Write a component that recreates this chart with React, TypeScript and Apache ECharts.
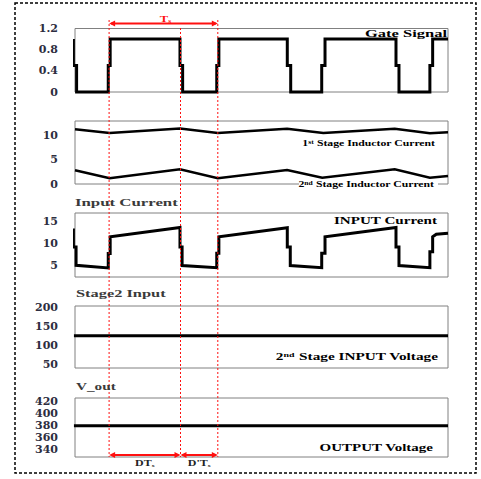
import React, { useEffect, useRef } from 'react';
import * as echarts from 'echarts';

// time axis (µs-like units), one switching period ≈ 10
const T_MIN = 0;
const T_MAX = 35;

// Gate signal (t, value) – two-step edges as in the original trace
const gateSignal: [number, number][] = [
  [-0.15, 1], [-0.15, 0.5], [0.15, 0.5], [0.15, 0],
  [3.12, 0], [3.12, 0.5], [3.3, 0.5], [3.3, 1],
  [9.85, 1], [9.85, 0.5], [10.1, 0.5], [10.1, 0],
  [13.3, 0], [13.3, 0.5], [13.5, 0.5], [13.5, 1],
  [19.92, 1], [19.92, 0.5], [20.24, 0.5], [20.24, 0],
  [23.15, 0], [23.15, 0.5], [23.46, 0.5], [23.46, 1],
  [30.12, 1], [30.12, 0.5], [30.4, 0.5], [30.4, 0],
  [33.3, 0], [33.3, 0.5], [33.56, 0.5], [33.56, 1],
  [35, 1],
];

const stage1Current: [number, number][] = [
  [0, 11.3], [3.25, 10.5], [9.85, 11.45], [13.4, 10.5], [19.9, 11.4],
  [23.3, 10.5], [30.0, 11.4], [33.3, 10.45], [35, 10.7],
];

const stage2Current: [number, number][] = [
  [0, 2.83], [3.25, 1.17], [9.85, 3.03], [13.4, 1.17], [19.9, 2.9],
  [23.2, 1.3], [30.0, 3.03], [33.3, 1.3], [35, 1.66],
];

const inputCurrent: [number, number][] = [
  [-0.15, 13.5], [-0.15, 9.3], [0.1, 9.3], [0.1, 5.15],
  [3.12, 4.55], [3.12, 7.8], [3.3, 7.8], [3.3, 11.6],
  [9.85, 13.7], [9.85, 9.3], [10.05, 9.3], [10.05, 5.1],
  [13.3, 4.6], [13.3, 7.9], [13.5, 7.9], [13.5, 11.6],
  [19.92, 13.65], [19.92, 9.3], [20.2, 9.3], [20.2, 5.1],
  [23.15, 4.6], [23.15, 7.9], [23.46, 7.9], [23.46, 11.6],
  [30.12, 13.7], [30.12, 9.3], [30.4, 9.3], [30.4, 5.1],
  [33.3, 4.6], [33.3, 8.2], [33.56, 8.2], [33.56, 11.6], [33.9, 12.2], [35, 12.4],
];

const stage2InputVoltage: [number, number][] = [[-0.1, 125], [35, 125]];
const outputVoltage: [number, number][] = [[-0.1, 380], [35, 380]];

// tick labels
const gateTicks = [0, 0.4, 0.8, 1.2];
const inductorTicks = [0, 5, 10];
const inputTicks = [5, 10, 15];
const stage2Ticks = [50, 100, 150, 200];
const voutTicks = [340, 360, 380, 400, 420];

// y ranges of the five panels
const yMins = [0, 0, 2.5, 41, 327.5];
const yMaxs = [1.2, 13, 17, 203, 426.5];

// switching instants marked with red dashed lines (on, off, on)
const markerTimes = [3.2, 9.9, 13.4];

const GRID_LEFT = 75;
const GRID_WIDTH = 373;
const gridTops = [28.5, 121, 213, 306, 398];
const gridHeights = [63.5, 63, 64, 62, 59];

const SERIF = '"Liberation Serif", "Times New Roman", serif';

function txt(
  text: string,
  x: number,
  y: number,
  o: { size: number; scale: number; align?: string; fill?: string; rich?: any }
) {
  const align = o.align || 'right';
  return {
    type: 'text',
    x,
    y,
    scaleX: o.scale,
    z: 100,
    style: {
      text,
      fill: o.fill || '#000',
      fontSize: o.size,
      fontWeight: 'bold',
      fontFamily: SERIF,
      align,
      textAlign: align,
      verticalAlign: 'middle',
      textVerticalAlign: 'middle',
      rich: o.rich,
    },
  };
}

function supRich(size: number) {
  return {
    sup: { fontSize: size, fontWeight: 'bold', fontFamily: SERIF, verticalAlign: 'top' },
  };
}
function subRich(size: number, fill: string) {
  return {
    sub: { fontSize: size, fontWeight: 'bold', fontFamily: SERIF, verticalAlign: 'bottom', fill },
  };
}

function arrow(x1: number, x2: number, y: number) {
  const red = '#ff1010';
  const h = 6;
  const w = 3;
  return [
    { type: 'line', z: 60, shape: { x1: x1 + 2, y1: y, x2: x2 - 2, y2: y }, style: { stroke: red, lineWidth: 2 } },
    { type: 'polygon', z: 60, shape: { points: [[x1, y], [x1 + h, y - w], [x1 + h, y + w]] }, style: { fill: red } },
    { type: 'polygon', z: 60, shape: { points: [[x2, y], [x2 - h, y - w], [x2 - h, y + w]] }, style: { fill: red } },
  ];
}

export default function App() {
  const ref = useRef<HTMLDivElement>(null);

  useEffect(() => {
    if (!ref.current) return;
    const chart = echarts.init(ref.current, undefined, { renderer: 'svg' });

    const tickSets = [gateTicks, inductorTicks, inputTicks, stage2Ticks, voutTicks];

    const grid = gridTops.map((top, i) => ({
      left: GRID_LEFT,
      width: GRID_WIDTH,
      top,
      height: gridHeights[i],
      show: true,
      borderColor: '#808080',
      borderWidth: 1,
      backgroundColor: 'transparent',
    }));

    const xAxis = gridTops.map((_, i) => ({
      type: 'value',
      gridIndex: i,
      min: T_MIN,
      max: T_MAX,
      show: false,
    }));

    const yAxis = gridTops.map((_, i) => ({
      type: 'value',
      gridIndex: i,
      min: yMins[i],
      max: yMaxs[i],
      axisLine: { show: false },
      axisTick: { show: false },
      splitLine: { show: false },
      axisLabel: {
        customValues: tickSets[i],
        formatter: (v: number) => (i === 0 ? (v === 0 ? '0' : v.toFixed(1)) : String(v)),
        fontFamily: '"DejaVu Serif", serif',
        fontWeight: 'bold',
        fontSize: 11,
        color: '#2d2d40',
        margin: 17,
      },
    }));

    const mk = (data: [number, number][], i: number, width: number) => ({
      type: 'line',
      xAxisIndex: i,
      yAxisIndex: i,
      data,
      symbol: 'none',
      showSymbol: false,
      clip: false,
      lineStyle: { color: '#000', width, join: 'miter', cap: 'butt' },
      emphasis: { disabled: true },
    });

    const series = [
      mk(gateSignal, 0, 3),
      mk(stage1Current, 1, 2.5),
      mk(stage2Current, 1, 2.5),
      mk(inputCurrent, 2, 3),
      mk(stage2InputVoltage, 3, 3),
      mk(outputVoltage, 4, 3),
    ];

    chart.setOption({
      animation: false,
      backgroundColor: '#fff',
      grid,
      xAxis,
      yAxis,
      series,
    });

    const xs = markerTimes.map((t) => (chart.convertToPixel({ gridIndex: 0 }, [t, 0]) as number[])[0]);
    const red = '#ff1010';
    const dark = '#222';

    const graphic: any[] = [
      // outer dashed frame
      {
        type: 'rect',
        z: 90,
        shape: { x: 15, y: 3, width: 461, height: 470 },
        style: { fill: 'none', stroke: '#000', lineWidth: 1.5, lineDash: [3, 2] },
      },
      // red dashed markers
      ...xs.map((x, i) => ({
        type: 'line',
        z: 55,
        shape: { x1: x, y1: i === 1 ? 28 : 20, x2: x, y2: 457 },
        style: { stroke: red, lineWidth: 1, lineDash: [2, 2] },
      })),
      ...arrow(xs[0], xs[2], 23.5),
      ...arrow(xs[0], xs[1], 455),
      ...arrow(xs[1], xs[2], 455),
      txt('T{sub|s}', (xs[0] + xs[2]) / 2 + 2, 19, { size: 9, scale: 1.4, align: 'center', fill: red, rich: subRich(5.5, red) }),
      txt('DT{sub|s}', (xs[0] + xs[1]) / 2, 463.5, { size: 8, scale: 1.5, align: 'center', fill: dark, rich: subRich(5, dark) }),
      txt("D'T{sub|s}", (xs[1] + xs[2]) / 2, 463.5, { size: 8, scale: 1.5, align: 'center', fill: dark, rich: subRich(5, dark) }),
      // panel labels
      txt('Gate Signal', 447, 33.5, { size: 10, scale: 1.65 }),
      txt('1{sup|st} Stage Inductor Current', 435, 143.5, { size: 8.5, scale: 1.38, rich: supRich(5.5) }),
      {
        type: 'rect',
        z: 99,
        shape: { x: 299, y: 179, width: 139, height: 10 },
        style: { fill: '#fff' },
      },
      txt('2{sup|nd} Stage Inductor Current', 434, 184, { size: 8.5, scale: 1.38, rich: supRich(5.5) }),
      txt('INPUT Current', 437, 220, { size: 10.5, scale: 1.44 }),
      txt('2{sup|nd} Stage INPUT Voltage', 438, 357, { size: 10, scale: 1.53, rich: supRich(6.5) }),
      txt('OUTPUT Voltage', 433, 448, { size: 10, scale: 1.5 }),
      // titles above panels
      txt('Input Current', 75, 203, { size: 10.5, scale: 1.6, align: 'left', fill: '#3a3a3a' }),
      txt('Stage2 Input', 76, 293.5, { size: 10.5, scale: 1.56, align: 'left', fill: '#3a3a3a' }),
      txt('V_out', 76, 386, { size: 10.5, scale: 1.45, align: 'left', fill: '#3a3a3a' }),
    ];

    chart.setOption({ graphic });

    return () => chart.dispose();
  }, []);

  return (
    <div
      ref={ref}
      style={{ position: 'fixed', left: 0, top: 0, width: 481, height: 479, background: '#fff' }}
    />
  );
}
